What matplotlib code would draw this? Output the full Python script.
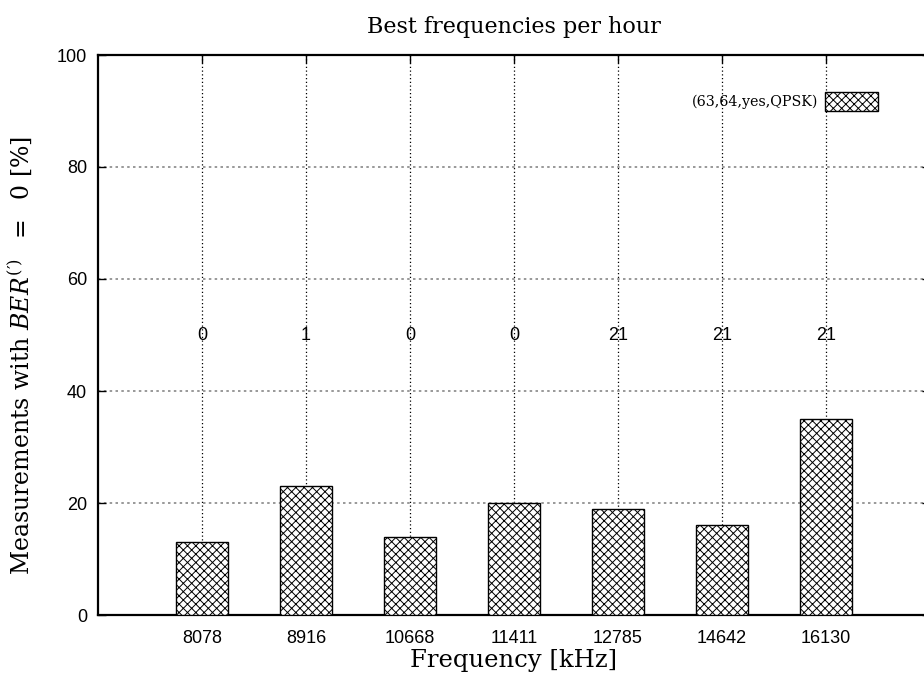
import matplotlib
matplotlib.use("Agg")
import matplotlib.pyplot as plt
import numpy as np

SERIF = 'DejaVu Serif'
SANS = 'Liberation Sans'

plt.rcParams['mathtext.fontset'] = 'custom'
plt.rcParams['mathtext.rm'] = SERIF
plt.rcParams['mathtext.it'] = SERIF + ':italic'
plt.rcParams['hatch.linewidth'] = 0.7

# data
freqs = ['8078', '8916', '10668', '11411', '12785', '14642', '16130']
share = [13, 23, 14, 20, 19, 16, 35]
hours = ['0', '1', '0', '0', '21', '21', '21']
series_name = '(63,64,yes,QPSK)'

fig = plt.figure(figsize=(9.24, 6.74), dpi=100)
ax = fig.add_axes([98/924, 1-615/674, 832/924, 560/674])

x = np.arange(len(freqs))
bars = ax.bar(x, share, width=0.5, color='white', edgecolor='black',
              hatch='xxxx', linewidth=1.0, zorder=3, label=series_name)

for xi, h in zip(x, hours):
    ax.text(xi, 50, h, ha='center', va='center', fontsize=13,
            family=SANS, zorder=4)

ax.set_xlim(-1, 7)
ax.set_ylim(0, 100)
ax.set_xticks(x)
ax.set_xticklabels(freqs, family=SANS, fontsize=13)
ax.set_yticks([0, 20, 40, 60, 80, 100])
ax.set_yticklabels(['0', '20', '40', '60', '80', '100'], family=SANS, fontsize=13)
ax.tick_params(direction='in', length=6, width=1, top=True, right=True)
ax.tick_params(axis='x', pad=11)
ax.tick_params(axis='y', pad=8)

ax.xaxis.grid(True, linestyle=(0, (1, 2)), color='black', linewidth=0.9, zorder=1)
ax.yaxis.grid(True, linestyle=(0, (1.5, 2)), color='#888888', linewidth=1.2, zorder=1)
ax.set_axisbelow(True)
for s in ax.spines.values():
    s.set_linewidth(1.6)

ax.set_title('Best frequencies per hour', family=SERIF, fontsize=16, pad=16)
ax.set_xlabel('Frequency [kHz]', family=SERIF, fontsize=17.5, labelpad=1)
ax.set_ylabel("Measurements with $BER^{(\\prime)}\\ \\ =\\ \\ 0$ [%]",
              family=SERIF, fontsize=17)
ax.yaxis.set_label_coords(-0.077, 0.464)

leg = ax.legend(loc='upper right', bbox_to_anchor=(0.9457, 0.947),
                markerfirst=False, frameon=False, borderpad=0,
                handlelength=3.65, handleheight=1.7, handletextpad=0.5,
                prop={'family': SERIF, 'size': 10.3})

fig.savefig('out.png', dpi=100)
